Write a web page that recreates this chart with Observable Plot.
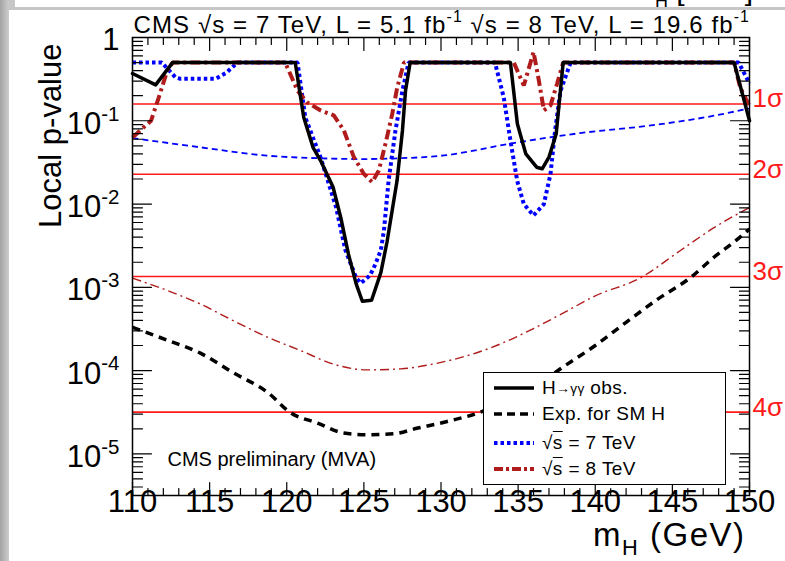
<!DOCTYPE html>
<html><head><meta charset="utf-8">
<script src="https://cdn.jsdelivr.net/npm/d3@7"></script>
<script src="https://cdn.jsdelivr.net/npm/@observablehq/plot@0.6"></script>
<style>
html,body{margin:0;padding:0;background:#fff;}
#wrap{position:relative;width:785px;height:561px;overflow:hidden;font-family:"Liberation Sans",Arial,Helvetica,sans-serif;background:#fff;}
#chart{position:absolute;left:0;top:0;}
#leftbar{position:absolute;left:0;top:0;width:9px;height:561px;background:linear-gradient(to right,#a4a4a4,#cdcdcd);}
#topband{position:absolute;left:9px;top:0;width:776px;height:10px;background:#c6c6c6;overflow:hidden;}
#topbox{position:absolute;left:6px;top:0;right:0;height:7px;background:#fff;overflow:hidden;}
#topbox span{position:absolute;left:615px;top:-27px;font-size:30px;white-space:nowrap;color:#000;}
#legend{position:absolute;left:483px;top:372px;width:241px;height:111px;border:1.5px solid #000;background:#fff;}
.lrow{position:absolute;left:0;height:24px;width:240px;}
.lrow > svg{position:absolute;left:9px;top:7px;}
.lrow > span{position:absolute;left:58px;top:0;font-size:19px;line-height:24px;white-space:nowrap;letter-spacing:0.4px;}
.sq{text-decoration:overline;}
.arr{font-size:0.72em;position:relative;top:-1px;}
</style></head><body>
<div id="wrap">
  <div id="chart"></div>
  <div id="leftbar"></div>
  <div id="topband"><div id="topbox"><span>m<sub style="font-size:18px">H</sub> [GeV]</span></div></div>
  <div id="legend"></div>
</div>
<script>
// ---------- data ----------
const titleText = "CMS \u221As = 7 TeV, L = 5.1 fb^{-1} \u221As = 8 TeV, L = 19.6 fb^{-1}";
const xLabel = "m_{H} (GeV)";
const yLabel = "Local p-value";
const noteText = "CMS preliminary (MVA)";

// observed, combined (H->gg obs.)
const obsMass = [110, 111.5, 112.6, 120.55, 120.9, 121.1, 121.7, 122.2, 123.0, 123.5, 124.0, 124.5, 124.9, 125.5, 126.1, 126.5, 127.15, 127.5, 127.7, 128.0, 134.5, 134.95, 135.5, 136.2, 136.56, 137.0, 137.47, 137.92, 149.0, 150];
const obsP    = [0.37, 0.27, 0.5, 0.5, 0.19, 0.11, 0.048, 0.033, 0.016, 0.0069, 0.0025, 0.0011, 0.00068, 0.0007, 0.0015, 0.0035, 0.019, 0.076, 0.23, 0.5, 0.5, 0.092, 0.04, 0.0277, 0.0265, 0.0366, 0.07, 0.5, 0.5, 0.1];

// expected for SM H (combined)
const expMass = [110, 112.3, 114.4, 116.5, 118.8, 120.2, 122, 123.7, 125.2, 126.9, 128.5, 130.6, 132.8, 134, 136, 137.9, 140, 142, 144, 146.2, 147.7, 149, 150];
const expP    = [3.3e-4, 2.3e-4, 1.62e-4, 9.5e-5, 5.4e-5, 3.16e-5, 2.34e-5, 1.78e-5, 1.7e-5, 1.74e-5, 2.04e-5, 2.5e-5, 3.3e-5, 4.2e-5, 6.3e-5, 1.1e-4, 2.0e-4, 3.8e-4, 7.1e-4, 1.32e-3, 2.3e-3, 3.5e-3, 5.0e-3];

// observed sqrt(s)=7 TeV
const obs7Mass = [110, 111.9, 112.8, 113.1, 115.4, 116.1, 116.8, 120.7, 121.2, 122.2, 123.2, 123.8, 124.5, 124.8, 125.4, 125.75, 126.1, 126.3, 126.6, 127.05, 127.5, 127.9, 133.5, 134.07, 134.5, 134.94, 135.37, 136.0, 136.67, 137.1, 137.4, 137.75, 138.4, 149.3, 150];
const obs7P    = [0.5, 0.5, 0.33, 0.32, 0.32, 0.38, 0.5, 0.5, 0.11, 0.036, 0.0091, 0.0028, 0.0013, 0.00112, 0.00139, 0.0019, 0.0028, 0.0048, 0.019, 0.077, 0.23, 0.5, 0.5, 0.19, 0.058, 0.019, 0.01, 0.0073, 0.01, 0.023, 0.077, 0.23, 0.5, 0.5, 0.28];

// observed sqrt(s)=8 TeV
const obs8Mass = [110, 111.2, 111.7, 112.25, 112.6, 119.9, 120.7, 121.3, 122.2, 123.05, 123.7, 124.35, 125.0, 125.54, 125.97, 126.4, 126.84, 127.16, 127.6, 134.72, 135.37, 136.0, 136.35, 136.67, 137.1, 137.53, 137.92, 149.0, 149.4, 150];
const obs8P    = [0.063, 0.1, 0.19, 0.4, 0.5, 0.5, 0.23, 0.167, 0.133, 0.116, 0.077, 0.0366, 0.023, 0.0183, 0.0253, 0.053, 0.121, 0.25, 0.5, 0.5, 0.265, 0.67, 0.30, 0.133, 0.153, 0.28, 0.5, 0.5, 0.25, 0.15];

// expected sqrt(s)=7 TeV
const exp7Mass = [110, 114.4, 118.8, 122, 125, 127.4, 130, 134.7, 139, 143.4, 147.7, 150];
const exp7P    = [0.062, 0.048, 0.038, 0.0355, 0.0347, 0.0355, 0.038, 0.054, 0.071, 0.087, 0.115, 0.141];

// expected sqrt(s)=8 TeV
const exp8Mass = [110, 112.3, 114.4, 116.5, 118.8, 120.9, 123, 125.2, 127.4, 129.5, 131.7, 133.6, 136, 138, 140, 142.9, 145.5, 147.7, 150];
const exp8P    = [1.29e-3, 9.1e-4, 6.3e-4, 4.0e-4, 2.5e-4, 1.74e-4, 1.2e-4, 1.02e-4, 1.05e-4, 1.2e-4, 1.51e-4, 2.0e-4, 3.2e-4, 5.0e-4, 7.9e-4, 1.29e-3, 2.75e-3, 5.2e-3, 9.1e-3];

// significance reference lines
const sigmaP = [0.1587, 0.02275, 0.00135, 3.167e-5];
const sigmaLabels = ["1\u03C3", "2\u03C3", "3\u03C3", "4\u03C3"];

// axis ticks
const xMajor = [110, 115, 120, 125, 130, 135, 140, 145, 150];
const xMajorLabels = ["110", "115", "120", "125", "130", "135", "140", "145", "150"];
const xMinor = d3.range(111, 150).filter(v => v % 5 !== 0);
const yMajor = [1, 1e-1, 1e-2, 1e-3, 1e-4, 1e-5];
const yMajorLabels = ["1", "10^{-1}", "10^{-2}", "10^{-3}", "10^{-4}", "10^{-5}"];
const yMinor = [];
for (let e = -6; e <= -1; e++) for (let k = 2; k <= 9; k++) { const v = k * Math.pow(10, e); if (v >= Math.pow(10, -5.5) && v < 1) yMinor.push(v); }

// legend
const legendLabels = ["H<span class='arr'>\u2192\u03B3\u03B3</span> obs.", "Exp. for SM H", "\u221A<span class='sq'>s</span> = 7 TeV", "\u221A<span class='sq'>s</span> = 8 TeV"];
const legendColors = ["#000000", "#000000", "#0000ff", "#b01c1c"];
const legendWidths = [3.5, 3.5, 4, 4];
const legendDash = ["none", "8,5", "3.5,3", "9,3,3,3"];
const legendRowTop = [3, 29, 58, 84];

// ---------- chart ----------
const tickLine = {draw(ctx, l) { ctx.moveTo(0, 0); ctx.lineTo(0, -l); }};
const darkRed = "#b01c1c";

const chart = Plot.plot({
  width: 785, height: 561,
  marginLeft: 132, marginRight: 36, marginTop: 37, marginBottom: 66,
  style: {fontFamily: "'Liberation Sans', Arial, Helvetica, sans-serif", background: "transparent", color: "black"},
  x: {domain: [110, 150], axis: null},
  y: {type: "log", domain: [Math.pow(10, -5.5), 1], axis: null},
  marks: [
    Plot.ruleY(sigmaP, {y: d => d, stroke: "#ff1a1a", strokeWidth: 1.6}),
    Plot.line(exp7Mass, {x: d => d, y: (d, i) => exp7P[i], curve: "monotone-x", stroke: "#0000ff", strokeWidth: 1.8, strokeDasharray: "6,4", strokeLinecap: "butt"}),
    Plot.line(exp8Mass, {x: d => d, y: (d, i) => exp8P[i], curve: "monotone-x", stroke: darkRed, strokeWidth: 1.4, strokeDasharray: "9,4,2,4", strokeLinecap: "butt"}),
    Plot.line(expMass, {x: d => d, y: (d, i) => expP[i], curve: "monotone-x", stroke: "black", strokeWidth: 3.5, strokeDasharray: "8,6", strokeLinecap: "butt"}),
    Plot.line(obs7Mass, {x: d => d, y: (d, i) => obs7P[i], stroke: "#0000ff", strokeWidth: 4, strokeDasharray: "3.5,3", strokeLinecap: "butt", strokeLinejoin: "miter"}),
    Plot.line(obs8Mass, {x: d => d, y: (d, i) => obs8P[i], stroke: darkRed, strokeWidth: 4, strokeDasharray: "10,4,3,4", strokeLinecap: "butt", strokeLinejoin: "miter"}),
    Plot.line(obsMass, {x: d => d, y: (d, i) => obsP[i], stroke: "black", strokeWidth: 3.5, strokeLinejoin: "round"}),
    // ticks (inside, ROOT style)
    Plot.vector(xMajor, {x: d => d, frameAnchor: "bottom", length: 13, rotate: 0, anchor: "start", shape: tickLine, stroke: "black", strokeWidth: 1.2}),
    Plot.vector(xMinor, {x: d => d, frameAnchor: "bottom", length: 7, rotate: 0, anchor: "start", shape: tickLine, stroke: "black", strokeWidth: 1.2}),
    Plot.vector(xMajor, {x: d => d, frameAnchor: "top", length: 13, rotate: 180, anchor: "start", shape: tickLine, stroke: "black", strokeWidth: 1.2}),
    Plot.vector(xMinor, {x: d => d, frameAnchor: "top", length: 7, rotate: 180, anchor: "start", shape: tickLine, stroke: "black", strokeWidth: 1.2}),
    Plot.vector(yMajor, {y: d => d, frameAnchor: "left", length: 19, rotate: 90, anchor: "start", shape: tickLine, stroke: "black", strokeWidth: 1.2}),
    Plot.vector(yMinor, {y: d => d, frameAnchor: "left", length: 10, rotate: 90, anchor: "start", shape: tickLine, stroke: "black", strokeWidth: 1.2}),
    Plot.vector(yMajor, {y: d => d, frameAnchor: "right", length: 19, rotate: -90, anchor: "start", shape: tickLine, stroke: "black", strokeWidth: 1.2}),
    Plot.vector(yMinor, {y: d => d, frameAnchor: "right", length: 10, rotate: -90, anchor: "start", shape: tickLine, stroke: "black", strokeWidth: 1.2}),
    Plot.frame({stroke: "black", strokeWidth: 1.5}),
    // tick labels
    Plot.text(xMajor, {x: d => d, text: (d, i) => xMajorLabels[i], frameAnchor: "bottom", dy: 16, fontSize: 31, fill: "black"}),
    Plot.text(yMajor, {y: d => d, text: (d, i) => yMajorLabels[i], frameAnchor: "left", textAnchor: "end", dx: -13, dy: 3, fontSize: 31, fill: "black"}),
    // sigma labels
    Plot.text(sigmaP, {y: d => d, text: (d, i) => sigmaLabels[i], frameAnchor: "right", textAnchor: "start", dx: 3, dy: -5, fontSize: 26, fill: "#ff1a1a"}),
    // titles
    Plot.text([titleText], {text: d => d, frameAnchor: "top-left", textAnchor: "start", dx: 1, dy: -22, fontSize: 24, fill: "black", className: "ttl"}),
    Plot.text([xLabel], {text: d => d, frameAnchor: "bottom-right", textAnchor: "end", dx: -4, dy: 50, fontSize: 33, fill: "black", className: "xlab"}),
    Plot.text([yLabel], {text: d => d, frameAnchor: "top-left", textAnchor: "end", rotate: -90, dx: -94, dy: 6, fontSize: 31, fill: "black"}),
    Plot.text([noteText], {text: d => d, frameAnchor: "bottom-left", textAnchor: "start", dx: 35, dy: -30, fontSize: 20, fill: "black"})
  ]
});
document.getElementById("chart").appendChild(chart);

// turn ^{..} and _{..} into raised / lowered tspans
function richText(svg) {
  const NS = "http://www.w3.org/2000/svg";
  svg.querySelectorAll("text").forEach(t => {
    const s = t.textContent;
    if (!/[\^_]\{/.test(s)) return;
    const fs = parseFloat(getComputedStyle(t).fontSize) || 20;
    const parts = s.split(/([\^_]\{[^}]*\})/).filter(x => x);
    t.textContent = "";
    let shift = 0;
    for (const p of parts) {
      const ts = document.createElementNS(NS, "tspan");
      let target = 0, txt = p, small = false;
      if (p.startsWith("^{")) { target = -0.42 * fs; txt = p.slice(2, -1); small = true; }
      else if (p.startsWith("_{")) { target = 0.28 * fs; txt = p.slice(2, -1); small = true; }
      ts.setAttribute("dy", (target - shift).toFixed(2));
      shift = target;
      if (small) ts.setAttribute("font-size", (0.66 * fs).toFixed(1));
      ts.textContent = txt;
      t.appendChild(ts);
    }
  });
}
richText(chart);
chart.querySelectorAll(".ttl text").forEach(t => t.setAttribute("letter-spacing", "1.1"));
chart.querySelectorAll(".xlab text").forEach(t => t.setAttribute("letter-spacing", "1.5"));

// legend (HTML)
const leg = document.getElementById("legend");
legendLabels.forEach((lab, i) => {
  const row = document.createElement("div");
  row.className = "lrow";
  row.style.top = legendRowTop[i] + "px";
  row.innerHTML = `<svg width="42" height="10"><line x1="1" y1="5" x2="41" y2="5" stroke="${legendColors[i]}" stroke-width="${legendWidths[i]}" ${legendDash[i] === "none" ? "" : `stroke-dasharray="${legendDash[i]}"`}/></svg><span>${lab}</span>`;
  leg.appendChild(row);
});
</script>
</body></html>
